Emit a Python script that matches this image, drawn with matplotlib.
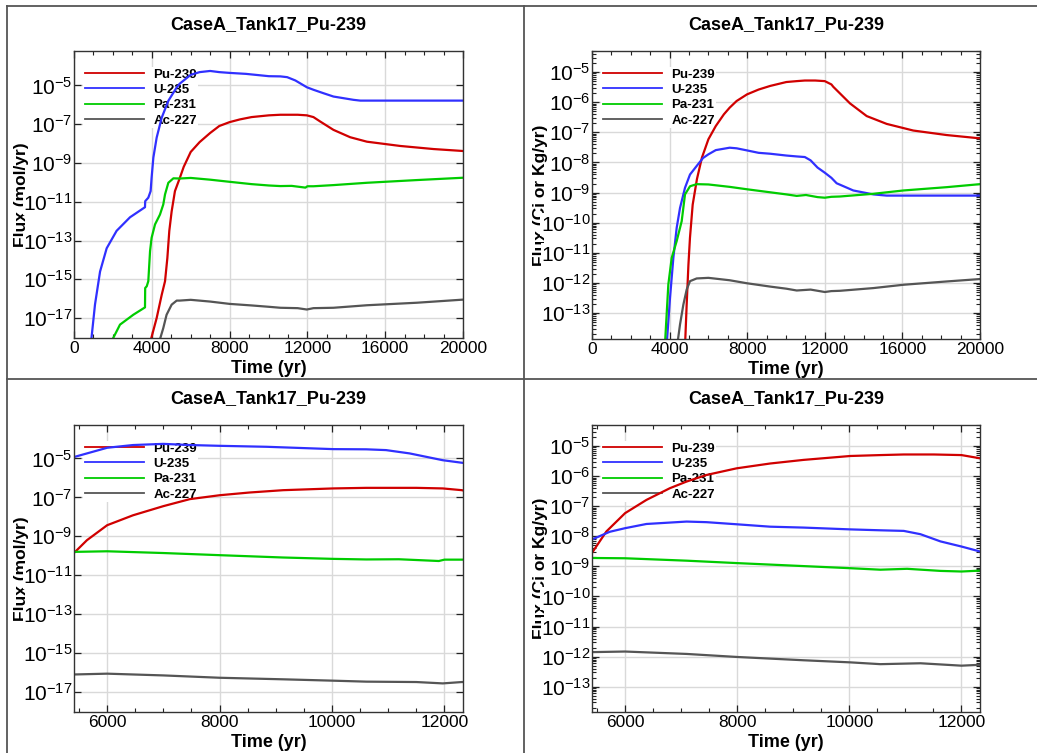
import numpy as np
import matplotlib
matplotlib.use('Agg')
import matplotlib.pyplot as plt
from matplotlib.ticker import MultipleLocator, NullLocator, LogLocator, NullFormatter
from matplotlib.lines import Line2D

plt.rcParams['font.family'] = ['Liberation Sans', 'DejaVu Sans']
plt.rcParams['mathtext.default'] = 'regular'

title = 'CaseA_Tank17_Pu-239'
species = ['Pu-239', 'U-235', 'Pa-231', 'Ac-227']
colors = ['#d00000', '#3030ff', '#00cc00', '#555555']

# flux in mol/yr, values as log10
t_pu_mol = [3850, 4250, 4510, 4680, 4800, 4900, 5020, 5190, 5430, 5640, 6000, 6460, 7000, 7470, 8000,
            8530, 9130, 10020, 10610, 11500, 11970, 12310, 12660, 13340, 14200, 15060, 16770, 18490, 20000]
lg_pu_mol = [-18.5, -17.0, -15.8, -15.1, -13.9, -12.5, -11.5, -10.45, -9.8, -9.2, -8.43, -7.92, -7.45, -7.09, -6.89,
             -6.75, -6.63, -6.54, -6.51, -6.51, -6.54, -6.63, -6.86, -7.29, -7.67, -7.9, -8.12, -8.28, -8.38]

t_u_mol = [850, 1080, 1340, 1680, 2190, 2880, 3650, 3660, 3820, 3940, 3990, 4080, 4250, 4510, 4850, 5280,
           5430, 6000, 6460, 7000, 7470, 8000, 8840, 10020, 10610, 10960, 11380, 11970, 12310, 12830, 13340,
           14370, 14720, 20000]
lg_u_mol = [-18.5, -16.3, -14.6, -13.4, -12.5, -11.8, -11.28, -10.97, -10.79, -10.45, -9.76, -8.72, -7.69, -6.66,
            -5.79, -5.1, -4.91, -4.45, -4.31, -4.25, -4.31, -4.35, -4.4, -4.52, -4.53, -4.57, -4.74, -5.09, -5.22,
            -5.4, -5.57, -5.74, -5.78, -5.78]

t_pa_mol = [1780, 2365, 3050, 3650, 3660, 3740, 3820, 3910, 3990, 4165, 4420, 4590, 4680, 4850, 5110, 5430,
            6000, 7000, 8000, 9130, 10020, 10610, 11190, 11900, 12000, 12310, 13340, 15060, 17630, 20000]
lg_pa_mol = [-18.5, -17.34, -16.83, -16.45, -15.45, -15.36, -15.1, -13.55, -12.86, -12.17, -11.66, -11.14, -10.62,
             -10.02, -9.79, -9.8, -9.77, -9.86, -9.97, -10.09, -10.16, -10.19, -10.18, -10.27, -10.2, -10.2,
             -10.14, -10.02, -9.88, -9.76]

t_ac_mol = [4300, 4590, 4760, 5020, 5280, 5430, 6000, 7000, 8000, 9130, 10020, 10610, 11500, 11970, 12310,
            13340, 15060, 17630, 20000]
lg_ac_mol = [-18.5, -17.52, -16.83, -16.31, -16.1, -16.1, -16.06, -16.15, -16.27, -16.35, -16.42, -16.47, -16.49,
             -16.56, -16.49, -16.47, -16.34, -16.21, -16.05]

# flux in Ci or Kg/yr, values as log10
t_pu_ci = [4770, 4880, 4970, 5050, 5190, 5410, 5666, 6000, 6381, 6800, 7097, 7454, 7990, 8587, 9182, 10017,
           10553, 10970, 11506, 12000, 12340, 12440, 13300, 14160, 15190, 16560, 18280, 20000]
lg_pu_ci = [-14.5, -12.72, -11.4, -10.5, -9.4, -8.55, -7.84, -7.23, -6.79, -6.4, -6.18, -5.96, -5.74, -5.58, -5.46,
            -5.33, -5.3, -5.28, -5.28, -5.3, -5.41, -5.49, -6.04, -6.46, -6.72, -6.94, -7.09, -7.2]

t_u_ci = [3800, 4021, 4193, 4365, 4537, 4794, 5052, 5416, 5726, 6000, 6381, 7097, 7454, 7990, 8587, 9182,
          10017, 10553, 10970, 11268, 11626, 12000, 12340, 12610, 13470, 14500, 15190, 20000]
lg_u_ci = [-14.5, -12.5, -11.17, -10.17, -9.51, -8.84, -8.4, -8.1, -7.85, -7.73, -7.59, -7.51, -7.53, -7.6, -7.68,
           -7.71, -7.77, -7.8, -7.82, -7.93, -8.17, -8.34, -8.51, -8.69, -8.93, -9.06, -9.1, -9.1]

t_pa_ci = [3720, 3935, 4107, 4365, 4623, 4794, 5052, 5396, 6000, 7097, 7990, 9182, 10017, 10553, 11030, 11626,
           12000, 12340, 12780, 14500, 16050, 18280, 20000]
lg_pa_ci = [-14.5, -12.05, -11.17, -10.61, -9.95, -9.06, -8.79, -8.72, -8.73, -8.81, -8.89, -8.99, -9.06, -9.11,
            -9.08, -9.15, -9.17, -9.14, -9.13, -9.04, -8.93, -8.82, -8.72]

t_ac_ci = [4300, 4537, 4709, 4880, 5052, 5396, 6000, 7097, 7990, 9182, 10017, 10553, 11268, 12000, 12340,
           12780, 14500, 16050, 18280, 20000]
lg_ac_ci = [-14.5, -13.38, -12.72, -12.22, -11.94, -11.85, -11.83, -11.91, -12.01, -12.12, -12.19, -12.25, -12.22,
            -12.3, -12.27, -12.26, -12.17, -12.06, -11.95, -11.87]

mol_series = [(t_pu_mol, lg_pu_mol), (t_u_mol, lg_u_mol), (t_pa_mol, lg_pa_mol), (t_ac_mol, lg_ac_mol)]
ci_series = [(t_pu_ci, lg_pu_ci), (t_u_ci, lg_u_ci), (t_pa_ci, lg_pa_ci), (t_ac_ci, lg_ac_ci)]

W, H = 1037, 753
fig = plt.figure(figsize=(W / 100, H / 100), dpi=100)


def box(l, t, r, b):
    return [l / W, 1 - b / H, (r - l) / W, (b - t) / H]


def panel(rect, series, xlim, xmaj, xmin, ylim, yexps, yminor, ylabel, ylab_x):
    ax = fig.add_axes(box(*rect))
    for (t, lg), c, name in zip(series, colors, species):
        ax.plot(t, 10 ** np.array(lg), color=c, lw=1.6, label=name)
    ax.set_yscale('log')
    ax.set_xlim(*xlim)
    ax.set_ylim(10 ** ylim[0], 10 ** ylim[1])
    ax.set_axisbelow(True)

    ax.xaxis.set_major_locator(MultipleLocator(xmaj))
    ax.xaxis.set_minor_locator(MultipleLocator(xmin))
    ax.set_yticks([10.0 ** e for e in yexps], [r'$10^{%d}$' % e for e in yexps])
    if yminor:
        ax.yaxis.set_minor_locator(LogLocator(base=10, subs=np.arange(2, 10), numticks=50))
    else:
        ax.yaxis.set_minor_locator(NullLocator())
    ax.yaxis.set_minor_formatter(NullFormatter())

    ax.grid(True, which='major', color='#d9d9d9', lw=1.0)
    ax.tick_params(which='both', direction='in', top=True, right=True, color='#222222')
    ax.tick_params(which='major', length=5, width=0.9)
    ax.tick_params(which='minor', length=3, width=0.8)
    ax.tick_params(axis='x', labelsize=12.5, pad=2)
    ax.tick_params(axis='y', labelsize=15, pad=1)
    for s in ax.spines.values():
        s.set_color('#333333')
        s.set_linewidth(1.0)

    for lab in ax.get_yticklabels():
        lab.set_bbox(dict(facecolor='white', edgecolor='none', pad=0.3))

    ax.set_title(title, fontsize=13, fontweight='bold', pad=16)
    ax.set_xlabel('Time (yr)', fontsize=13, fontweight='bold', labelpad=3)

    # y label sits behind the tick labels, as in the original
    ymid = (rect[1] + rect[3]) / 2
    fig.text(ylab_x / W, 1 - ymid / H, ylabel, rotation=90, ha='center', va='center',
             fontsize=12.5, fontweight='bold', zorder=-1)

    leg = ax.legend(loc='upper left', bbox_to_anchor=(0.024, 0.944), borderaxespad=0, frameon=True,
                    fancybox=False, edgecolor='none', facecolor='white', framealpha=1, borderpad=0.1,
                    handlelength=4.5, handletextpad=0.7, labelspacing=0.24,
                    prop={'weight': 'bold', 'size': 9.5})
    leg.set_zorder(1)
    for h in leg.get_lines():
        h.set_linewidth(1.3)
    return ax


panel((74, 51, 463, 338), mol_series, (0, 20000), 4000, 1000, (-18.03, -3.22),
      [-17, -15, -13, -11, -9, -7, -5], False, 'Flux (mol/yr)', 22)
panel((592, 51, 980, 339), ci_series, (0, 20000), 4000, 1000, (-13.86, -4.3),
      list(range(-13, -4)), True, 'Flux (Ci or Kg/yr)', 540)
panel((74, 425, 463, 712), mol_series, (5410, 12330), 2000, 500, (-18.03, -3.28),
      [-17, -15, -13, -11, -9, -7, -5], False, 'Flux (mol/yr)', 22)
panel((592, 425, 980, 712), ci_series, (5410, 12330), 2000, 500, (-13.84, -4.3),
      list(range(-13, -4)), True, 'Flux (Ci or Kg/yr)', 540)

# panel frame lines
fr = dict(transform=fig.transFigure, color='#555555', lw=1.3)
fig.add_artist(Line2D([7 / W, 1], [1 - 5.5 / H, 1 - 5.5 / H], **fr))
fig.add_artist(Line2D([7 / W, 7 / W], [0, 1 - 5.5 / H], **fr))
fig.add_artist(Line2D([524 / W, 524 / W], [0, 1 - 5.5 / H], **fr))
fig.add_artist(Line2D([7 / W, 1], [1 - 379 / H, 1 - 379 / H], **fr))

fig.savefig('out.png', dpi=100)
